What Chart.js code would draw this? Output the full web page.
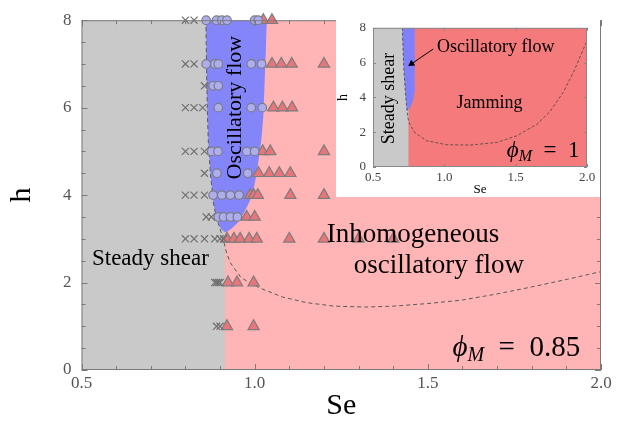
<!DOCTYPE html>
<html lang="en">
<head>
<meta charset="UTF-8">
<script src="https://cdn.jsdelivr.net/npm/chart.js"></script>
<style>
    body { margin: 0; background: #fff; }
    #wrap { position: relative; width: 623px; height: 425px; }
    #main { position: absolute; left: 0; top: 0; }
    #inset { position: absolute; left: 336px; top: 13px; background: #fff; }
</style>
</head>
<body>
<div id="wrap">
    <canvas id="main" width="623" height="425"></canvas>
    <canvas id="inset" width="264" height="184"></canvas>
</div>
<script>
    // ---- main panel, phi_M = 0.85 ----
    // steady shear points (crosses)
    const crossSe = [0.8, 0.825, 0.8, 0.825, 0.855, 0.8, 0.825, 0.85, 0.8, 0.825, 0.855, 0.855,
        0.8, 0.825, 0.855, 0.86, 0.875, 0.8, 0.825, 0.855, 0.885, 0.9, 0.91, 0.885, 0.89, 0.895, 0.9, 0.89, 0.9];
    const crossH = [8, 8, 7, 7, 6.5, 6, 6, 6, 5, 5, 5, 4.5,
        4, 4, 4, 3.5, 3.5, 3, 3, 3, 3, 3, 3, 2, 2, 2, 2, 1, 1];
    // oscillatory flow points (circles)
    const circleSe = [0.86, 0.89, 0.905, 0.92, 1.0, 1.01, 0.86, 0.885, 0.895, 0.99, 1.02, 0.88, 0.895,
        0.895, 0.99, 1.022, 0.876, 0.894, 0.977, 1.0, 0.891, 0.98, 0.88, 0.905, 0.93, 0.955, 0.895, 0.91, 0.93, 0.95];
    const circleH = [8, 8, 8, 8, 8, 8, 7, 7, 7, 7, 7, 6.5, 6.5,
        6, 6, 6, 5, 5, 5, 5, 4.5, 4.5, 4, 4, 4, 4, 3.5, 3.5, 3.5, 3.5];
    // inhomogeneous oscillatory flow points (triangles)
    const triSe = [1.025, 1.05, 1.05, 1.077, 1.107, 1.2, 1.054, 1.08, 1.108, 1.023, 1.045, 1.2,
        1.011, 1.042, 1.071, 1.103, 0.987, 0.997, 1.009, 1.103, 1.2, 0.977, 1.0,
        0.92, 0.94, 0.958, 0.984, 1.006, 1.1, 1.2, 1.3, 1.4, 0.923, 0.949, 0.997, 0.92, 0.997];
    const triH = [8, 8, 7, 7, 7, 7, 6, 6, 6, 5, 5, 5,
        4.5, 4.5, 4.5, 4.5, 4, 4, 4, 4, 4, 3.5, 3.5,
        3, 3, 3, 3, 3, 3, 3, 3, 3, 2, 2, 2, 1, 1];
    // oscillatory region outline
    const blueSe = [0.859, 0.861, 0.863, 0.866, 0.872, 0.881, 0.888, 0.895, 0.903, 0.915, 0.924, 0.935,
        0.949, 0.968, 0.985, 0.996, 1.006, 1.019, 1.025, 1.032, 1.035];
    const blueH = [8, 7, 6, 5.25, 4.5, 3.8, 3.55, 3.35, 3.22, 3.15, 3.18, 3.25,
        3.35, 3.58, 3.85, 4.1, 4.5, 5.25, 5.8, 7.25, 8];
    // dashed boundary
    const dashSe = [0.859, 0.861, 0.863, 0.866, 0.872, 0.881, 0.888, 0.895, 0.905, 0.912, 0.918, 0.93, 0.96,
        0.99, 1.02, 1.08, 1.15, 1.23, 1.32, 1.4, 1.5, 1.6, 1.7, 1.8, 1.9, 2.0];
    const dashH = [8, 7, 6, 5.25, 4.5, 3.8, 3.55, 3.35, 3.1, 2.9, 2.7, 2.45, 2.12,
        1.97, 1.86, 1.67, 1.54, 1.46, 1.44, 1.46, 1.52, 1.6, 1.74, 1.9, 2.07, 2.25];
    const steadyEdge = 0.915;
    const xMinor = [0.6, 0.7, 0.8, 0.9, 1.1, 1.2, 1.3, 1.4, 1.6, 1.7, 1.8, 1.9];
    const xMajor = [0.5, 1.0, 1.5, 2.0];
    const yMinor = [0.5, 1, 1.5, 2.5, 3, 3.5, 4.5, 5, 5.5, 6.5, 7, 7.5];
    const yMajor = [0, 2, 4, 6, 8];

    // ---- inset, phi_M = 1 ----
    const insetBlueSe = [0.706, 0.709, 0.716, 0.73, 0.736, 0.739, 0.748, 0.765, 0.782, 0.79, 0.793, 0.793];
    const insetBlueH = [8, 7.15, 5.65, 3.95, 3.45, 3.2, 3.3, 3.5, 3.85, 4.3, 5.2, 8];
    const insetDashSe = [0.706, 0.709, 0.716, 0.73, 0.739, 0.745, 0.758, 0.793, 0.875, 1.016, 1.18, 1.367,
        1.508, 1.648, 1.742, 1.836, 1.906, 1.965, 2.0];
    const insetDashH = [8, 7.15, 5.65, 3.95, 3.2, 2.8, 2.45, 1.98, 1.51, 1.28, 1.26, 1.41,
        1.79, 2.45, 3.2, 4.33, 5.46, 6.59, 7.25];
    const insetSteadyEdge = 0.75;
    const arrowSe = [0.922, 0.77];
    const arrowH = [6.78, 5.93];

    const pts = (xs, ys) => xs.map((v, i) => ({ x: v, y: ys[i] }));
    const serif = "'Liberation Serif', 'DejaVu Serif', serif";

    // inward ticks + frame
    const inTicks = {
        id: 'inTicks',
        afterDatasetsDraw(chart, args, o) {
            const { ctx, chartArea: a, scales: { x, y } } = chart;
            ctx.save();
            ctx.strokeStyle = o.color;
            ctx.lineWidth = 1;
            ctx.beginPath();
            const vx = (v, len) => {
                const p = Math.round(x.getPixelForValue(v)) + 0.5;
                ctx.moveTo(p, a.bottom); ctx.lineTo(p, a.bottom - len);
                ctx.moveTo(p, a.top); ctx.lineTo(p, a.top + len);
            };
            const vy = (v, len) => {
                const p = Math.round(y.getPixelForValue(v)) + 0.5;
                ctx.moveTo(a.left, p); ctx.lineTo(a.left + len, p);
                ctx.moveTo(a.right, p); ctx.lineTo(a.right - len, p);
            };
            o.xMinor.forEach(v => vx(v, o.minor));
            o.xMajor.forEach(v => vx(v, o.major));
            o.yMinor.forEach(v => vy(v, o.minor));
            o.yMajor.forEach(v => vy(v, o.major));
            ctx.stroke();
            ctx.strokeRect(a.left + 0.5, a.top + 0.5, a.right - a.left - 1, a.bottom - a.top - 1);
            ctx.restore();
        }
    };

    // text labels placed in data coordinates
    const notes = {
        id: 'notes',
        afterDraw(chart, args, o) {
            const { ctx, scales: { x, y } } = chart;
            for (const n of o.items) {
                ctx.save();
                ctx.translate(x.getPixelForValue(n.se), y.getPixelForValue(n.h));
                if (n.rot) ctx.rotate(n.rot * Math.PI / 180);
                ctx.fillStyle = '#000';
                if (n.parts) {
                    ctx.textAlign = 'left';
                    ctx.textBaseline = 'alphabetic';
                    let cx = 0;
                    for (const p of n.parts) {
                        ctx.font = p.font;
                        ctx.fillText(p.text, cx, p.dy || 0);
                        cx += ctx.measureText(p.text).width;
                    }
                } else {
                    ctx.font = n.font;
                    ctx.textAlign = 'center';
                    ctx.textBaseline = 'middle';
                    ctx.fillText(n.text, 0, 0);
                }
                ctx.restore();
            }
        }
    };

    new Chart(document.getElementById('main'), {
        type: 'scatter',
        data: {
            datasets: [{
                data: pts(crossSe, crossH),
                pointStyle: 'crossRot',
                pointRadius: 5,
                borderColor: '#707070',
                borderWidth: 1.2,
                clip: false,
                order: 0
            }, {
                data: pts(circleSe, circleH),
                pointStyle: 'circle',
                pointRadius: 4.3,
                backgroundColor: '#aeaeee',
                borderColor: '#7c7c86',
                borderWidth: 1.2,
                clip: false,
                order: 1
            }, {
                data: pts(triSe, triH),
                pointStyle: 'triangle',
                pointRadius: 6.5,
                backgroundColor: '#e8757a',
                borderColor: '#7d7d7d',
                borderWidth: 1.2,
                clip: false,
                order: 2
            }, {
                type: 'line',
                data: pts(dashSe, dashH),
                borderColor: '#5a5a5a',
                borderWidth: 1,
                borderDash: [4, 3],
                pointRadius: 0,
                fill: false,
                order: 3
            }, {
                type: 'line',
                data: pts([0.64, 0.92], [0, 0]),
                borderColor: '#6a6a6a',
                borderWidth: 2,
                pointRadius: 0,
                fill: false,
                order: 4
            }, {
                type: 'line',
                data: pts(blueSe, blueH),
                borderWidth: 0,
                pointRadius: 0,
                backgroundColor: '#8585fa',
                fill: 'shape',
                order: 5
            }, {
                type: 'line',
                data: pts([0.5, steadyEdge], [8, 8]),
                borderWidth: 0,
                pointRadius: 0,
                backgroundColor: '#c9c9c9',
                fill: 'origin',
                order: 6
            }, {
                type: 'line',
                data: pts([0.5, 2.0], [8, 8]),
                borderWidth: 0,
                pointRadius: 0,
                backgroundColor: '#ffb4b6',
                fill: 'origin',
                order: 7
            }]
        },
        options: {
            responsive: false,
            animation: false,
            devicePixelRatio: 1,
            layout: { padding: { top: 12, right: 22, left: 0, bottom: 0 } },
            plugins: {
                legend: { display: false },
                tooltip: { enabled: false },
                inTicks: { color: '#7a7a7a', minor: 4, major: 6, xMinor, xMajor, yMinor, yMajor },
                notes: {
                    items: [
                        { text: 'Steady shear', se: 0.699, h: 2.55, font: '23px ' + serif },
                        { text: 'Oscillatory flow', se: 0.944, h: 6.0, rot: -90, font: '22px ' + serif },
                        { text: 'Inhomogeneous', se: 1.457, h: 3.1, font: '27px ' + serif },
                        { text: 'oscillatory flow', se: 1.532, h: 2.37, font: '27px ' + serif },
                        {
                            se: 1.571, h: 0.31, parts: [
                                { text: 'ϕ', font: 'italic 29px ' + serif },
                                { text: 'M', font: 'italic 20px ' + serif, dy: 5 },
                                { text: '\u2002=\u20020.85', font: '29px ' + serif }
                            ]
                        }
                    ]
                }
            },
            scales: {
                x: {
                    type: 'linear', min: 0.5, max: 2.0,
                    grid: { display: false, drawTicks: false },
                    border: { display: false },
                    ticks: {
                        stepSize: 0.5, padding: 3, color: '#555', autoSkip: false, maxRotation: 0,
                        font: { family: serif, size: 17 },
                        callback: v => v.toFixed(1)
                    },
                    title: {
                        display: true, text: 'Se', color: '#000',
                        font: { family: serif, size: 30, lineHeight: 1 },
                        padding: { top: 0, bottom: 4 }
                    },
                    afterFit(s) { s.height = 55; }
                },
                y: {
                    min: 0, max: 8,
                    grid: { display: false, drawTicks: false },
                    border: { display: false },
                    ticks: {
                        stepSize: 2, padding: 10, color: '#555',
                        font: { family: serif, size: 17 }
                    },
                    title: {
                        display: true, text: 'h', color: '#000',
                        font: { family: serif, size: 30, lineHeight: 1 },
                        padding: { top: 7, bottom: 0 }
                    },
                    afterFit(s) { s.width = 81.5; }
                }
            }
        },
        plugins: [inTicks, notes]
    });

    new Chart(document.getElementById('inset'), {
        type: 'scatter',
        data: {
            datasets: [{
                type: 'line',
                data: pts(arrowSe, arrowH),
                borderColor: '#000',
                borderWidth: 1,
                backgroundColor: '#000',
                pointStyle: 'triangle',
                pointRadius: [0, 4],
                pointRotation: [0, 235],
                pointBorderWidth: 0,
                fill: false,
                order: 0
            }, {
                type: 'line',
                data: pts(insetDashSe, insetDashH),
                borderColor: '#444',
                borderWidth: 0.8,
                borderDash: [3, 2],
                pointRadius: 0,
                fill: false,
                order: 1
            }, {
                type: 'line',
                data: pts(insetBlueSe, insetBlueH),
                borderWidth: 0,
                pointRadius: 0,
                backgroundColor: '#8080fc',
                fill: 'shape',
                order: 2
            }, {
                type: 'line',
                data: pts([0.5, insetSteadyEdge], [8, 8]),
                borderWidth: 0,
                pointRadius: 0,
                backgroundColor: '#c9c9c9',
                fill: 'origin',
                order: 3
            }, {
                type: 'line',
                data: pts([0.5, 2.0], [8, 8]),
                borderWidth: 0,
                pointRadius: 0,
                backgroundColor: '#f57a7b',
                fill: 'origin',
                order: 4
            }]
        },
        options: {
            responsive: false,
            animation: false,
            devicePixelRatio: 1,
            layout: { padding: { top: 12, right: 13, left: 0, bottom: 0 } },
            plugins: {
                legend: { display: false },
                tooltip: { enabled: false },
                inTicks: { color: '#888', minor: 0, major: 3, xMinor: [], xMajor, yMinor: [], yMajor },
                notes: {
                    items: [
                        { text: 'Steady shear', se: 0.613, h: 3.94, rot: -90, font: '18px ' + serif },
                        { text: 'Oscillatory flow', se: 1.36, h: 6.86, font: '18px ' + serif },
                        { text: 'Jamming', se: 1.316, h: 3.66, font: '18px ' + serif },
                        {
                            se: 1.438, h: 0.56, parts: [
                                { text: 'ϕ', font: 'italic 23px ' + serif },
                                { text: 'M', font: 'italic 16px ' + serif, dy: 4 },
                                { text: '\u2002=\u20021', font: '23px ' + serif }
                            ]
                        }
                    ]
                }
            },
            scales: {
                x: {
                    type: 'linear', min: 0.5, max: 2.0,
                    grid: { display: false, drawTicks: false },
                    border: { display: false },
                    ticks: {
                        stepSize: 0.5, padding: 3, color: '#444', autoSkip: false, maxRotation: 0,
                        font: { family: serif, size: 13 },
                        callback: v => v.toFixed(1)
                    },
                    title: {
                        display: true, text: 'Se', color: '#000',
                        font: { family: serif, size: 13, lineHeight: 1 },
                        padding: { top: 0, bottom: 1 }
                    },
                    afterFit(s) { s.height = 30; }
                },
                y: {
                    min: 0, max: 8,
                    grid: { display: false, drawTicks: false },
                    border: { display: false },
                    ticks: {
                        stepSize: 2, padding: 7, color: '#444',
                        font: { family: serif, size: 13 }
                    },
                    title: {
                        display: true, text: 'h', color: '#000',
                        font: { family: serif, size: 14, lineHeight: 1 },
                        padding: { top: 0, bottom: 0 }
                    },
                    afterFit(s) { s.width = 37; }
                }
            }
        },
        plugins: [inTicks, notes]
    });
</script>
</body>
</html>
